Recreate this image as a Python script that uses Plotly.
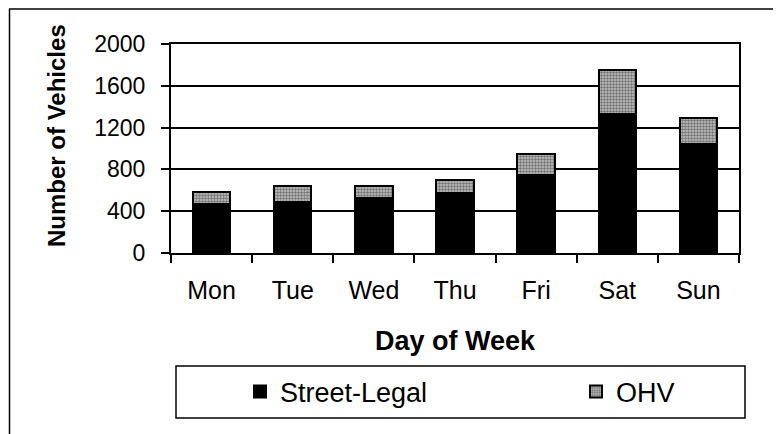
import plotly.graph_objects as go

days = ["Mon", "Tue", "Wed", "Thu", "Fri", "Sat", "Sun"]
street_legal = [465, 490, 530, 570, 750, 1330, 1040]
ohv = [115, 150, 110, 130, 200, 425, 250]
y_ticks = [0, 400, 800, 1200, 1600, 2000]

# The page body has an 8px default margin, so the figure is 8px smaller
# and all positions below are given in page pixels.
OFF = 8
W, H = 781 - OFF, 434 - OFF
PL, PR, PT, PB = 171, 739, 44, 253          # plot area in page pixels
L, R, T, B = PL - OFF, 781 - PR, PT - OFF, 434 - PB
pw, ph = PR - PL, PB - PT


def px(x):
    return (x - PL) / pw


def py(y):
    return (PB - y) / ph


FONT = "Liberation Sans, Arial, sans-serif"
LEG_FONT = dict(family=FONT, size=27, color="black")

fig = go.Figure()
fig.add_trace(go.Bar(
    x=days, y=street_legal, name="Street-Legal", legend="legend",
    marker=dict(color="black", line=dict(color="black", width=2)),
))
fig.add_trace(go.Bar(
    x=days, y=ohv, name="OHV", legend="legend2",
    marker=dict(color="#a8a8a8", line=dict(color="black", width=2),
                pattern=dict(shape=".", size=3, solidity=0.55,
                             fgcolor="#262626", bgcolor="#c4c4c4")),
))

fig.update_layout(
    width=W, height=H,
    margin=dict(l=L, r=R, t=T, b=B, pad=0, autoexpand=False),
    paper_bgcolor="white", plot_bgcolor="white",
    barmode="stack", bargap=0.54,
    font=dict(family=FONT, color="black"),
    showlegend=True,
    legend=dict(orientation="h", x=px(240), xanchor="left",
                y=py(392), yanchor="middle", font=LEG_FONT,
                bgcolor="rgba(0,0,0,0)", borderwidth=0),
    legend2=dict(orientation="h", x=px(576), xanchor="left",
                 y=py(392), yanchor="middle", font=LEG_FONT,
                 bgcolor="rgba(0,0,0,0)", borderwidth=0),
    xaxis=dict(
        showline=True, linecolor="black", linewidth=2, mirror=True,
        ticks="outside", ticklen=8, tickwidth=2, tickcolor="black",
        tickson="boundaries", showgrid=False,
        tickfont=dict(family=FONT, size=25, color="black"),
        ticklabelstandoff=14,
    ),
    yaxis=dict(
        range=[0, 2000], tickvals=y_ticks,
        showline=True, linecolor="black", linewidth=2, mirror=True,
        ticks="outside", ticklen=8, tickwidth=2, tickcolor="black",
        showgrid=True, gridcolor="black", gridwidth=1.5,
        zeroline=False,
        tickfont=dict(family=FONT, size=23, color="black"),
        ticklabelstandoff=11,
    ),
    annotations=[
        dict(text="<b>Day of Week</b>", xref="paper", yref="paper",
             x=px(455), y=py(341), xanchor="center", yanchor="middle",
             showarrow=False, font=dict(family=FONT, size=27, color="black")),
        dict(text="<b>Number of Vehicles</b>", xref="paper", yref="paper",
             x=px(57), y=py(136), xanchor="center", yanchor="middle",
             textangle=-90, showarrow=False,
             font=dict(family=FONT, size=24, color="black")),
    ],
    shapes=[
        dict(type="rect", xref="paper", yref="paper",
             x0=px(176), x1=px(745), y0=py(418), y1=py(366),
             line=dict(color="black", width=1.5), fillcolor="rgba(0,0,0,0)"),
        dict(type="line", xref="paper", yref="paper",
             x0=px(9), x1=px(781), y0=py(9), y1=py(9),
             line=dict(color="black", width=1.5)),
        dict(type="line", xref="paper", yref="paper",
             x0=px(9.5), x1=px(9.5), y0=py(9), y1=py(434),
             line=dict(color="black", width=1.5)),
    ],
)

fig.write_html("out.html")
